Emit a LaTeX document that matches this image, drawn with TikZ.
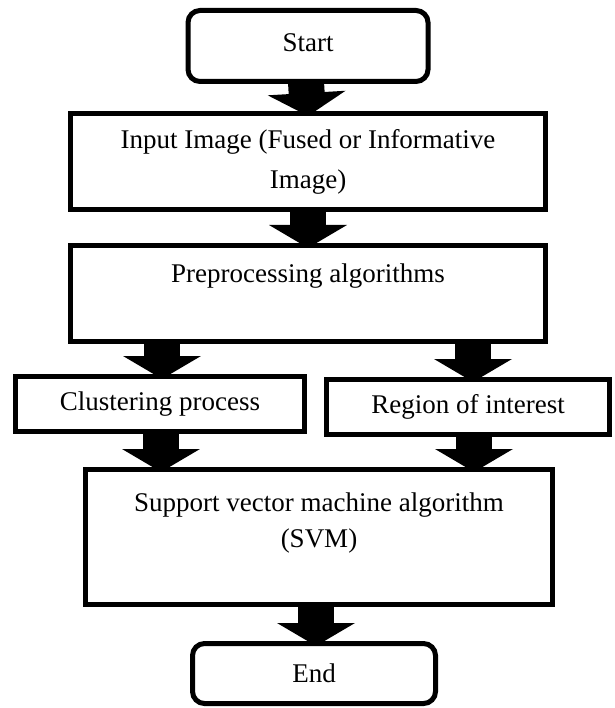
\documentclass[tikz,border=0pt]{standalone}
\usepackage{fontspec}
\setmainfont{Liberation Serif}
\usetikzlibrary{arrows.meta,calc}
\begin{document}
\begin{tikzpicture}[x=1pt,y=-1pt,
  box/.style={draw=black, line width=5pt, fill=white, align=center, inner sep=0pt,
    font=\fontsize{27}{40}\selectfont},
  roundbox/.style={box, rounded corners=12pt},
  bigarrow/.style={line width=36pt, -{Triangle[width=77pt,length=23pt]}}
]
\useasboundingbox (0,0) rectangle (614,708);
\node[roundbox, minimum width=240pt, minimum height=71pt, text depth=7pt] (start) at (308,46) {Start};
\node[box, minimum width=475pt, minimum height=96pt] (input) at (308,161.5)
  {Input Image (Fused or Informative\\Image)};
\node[box, minimum width=475pt, minimum height=96pt,
  label={[anchor=center, yshift=-33pt, font=\fontsize{27}{40}\selectfont]north:Preprocessing algorithms}] (pre) at (308,293.5) {};
\node[box, minimum width=289pt, minimum height=55pt] (clu) at (160,404) {Clustering process};
\node[box, minimum width=283pt, minimum height=55pt] (reg) at (468,407) {Region of interest};
\node[box, minimum width=467pt, minimum height=135pt,
  label={[anchor=center, yshift=-56pt, align=center, font=\fontsize{27}{36}\selectfont]north:Support vector machine algorithm\\(SVM)}] (svm) at (319,537) {};
\node[roundbox, minimum width=243pt, minimum height=60pt] (end) at (314,673.5) {End};
\draw[bigarrow] ($(start.south)+(-2,-2)$) -- ($(input.north)+(0,5)$);
\draw[bigarrow] ($(input.south)+(0,-2)$) -- ($(pre.north)+(0,5)$);
\draw[bigarrow] ($(clu.north |- pre.south)+(2,-2)$) -- ($(clu.north)+(2,5)$);
\draw[bigarrow] ($(reg.north |- pre.south)+(5,-2)$) -- ($(reg.north)+(5,5)$);
\draw[bigarrow] ($(clu.south)+(1,-2)$) -- ($(clu.south |- svm.north)+(1,5)$);
\draw[bigarrow] ($(reg.south)+(6,-2)$) -- ($(reg.south |- svm.north)+(6,5)$);
\draw[bigarrow] ($(end.north |- svm.south)+(2,-2)$) -- ($(end.north)+(2,5)$);
\end{tikzpicture}
\end{document}
